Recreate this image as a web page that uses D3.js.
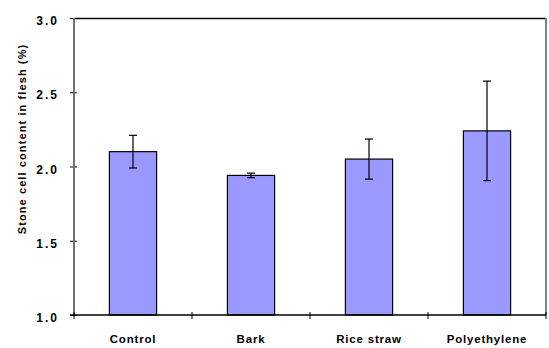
<!DOCTYPE html>
<html>
<head>
<meta charset="utf-8">
<script src="https://cdn.jsdelivr.net/npm/d3@7"></script>
<style>
  body { margin: 0; background: #fff; }
  text { font-family: "Liberation Sans", Arial, sans-serif; font-weight: bold; }
</style>
</head>
<body>
<div id="chart"></div>
<script>
// data
var categories = ["Control", "Bark", "Rice straw", "Polyethylene"];
var means = [2.10, 1.94, 2.05, 2.24];
var errors = [0.11, 0.015, 0.135, 0.335];
var yTicks = [1.0, 1.5, 2.0, 2.5, 3.0];

var W = 549, H = 348;
var margin = { top: 18, right: 3, bottom: 33, left: 74 },
  width = W - margin.left - margin.right,
  height = H - margin.top - margin.bottom;

var svg = d3.select("#chart")
  .append("svg")
  .attr("width", W)
  .attr("height", H)
  .append("g")
  .attr("transform", "translate(" + margin.left + "," + margin.top + ")");

var x = d3.scaleBand()
  .domain(categories)
  .range([0, width])
  .paddingInner(0)
  .paddingOuter(0);

var y = d3.scaleLinear()
  .domain([1.0, 3.0])
  .range([height, 0]);

// plot frame: top black, right gray
svg.append("line")
  .attr("x1", 0).attr("x2", width)
  .attr("y1", 0.5).attr("y2", 0.5)
  .style("stroke", "#000").style("stroke-width", 1.5);
svg.append("line")
  .attr("x1", width).attr("x2", width)
  .attr("y1", 0).attr("y2", height)
  .style("stroke", "#808080").style("stroke-width", 2);

// bars
var barW = x.bandwidth() * 0.4;
svg.selectAll("rect.bar")
  .data(categories)
  .enter()
  .append("rect")
  .attr("class", "bar")
  .attr("x", function (d) { return x(d) + (x.bandwidth() - barW) / 2; })
  .attr("y", function (d, i) { return y(means[i]); })
  .attr("width", barW)
  .attr("height", function (d, i) { return height - y(means[i]); })
  .attr("fill", "#9999ff")
  .attr("stroke", "#000")
  .attr("stroke-width", 1.2);

// error bars
var eb = svg.selectAll("g.err")
  .data(categories)
  .enter()
  .append("g")
  .attr("class", "err")
  .attr("transform", function (d) { return "translate(" + (x(d) + x.bandwidth() / 2) + ",0)"; });

eb.append("line")
  .attr("y1", function (d, i) { return y(means[i] + errors[i]); })
  .attr("y2", function (d, i) { return y(means[i] - errors[i]); })
  .style("stroke", "#000").style("stroke-width", 1.2);
eb.append("line")
  .attr("x1", -4).attr("x2", 4)
  .attr("y1", function (d, i) { return y(means[i] + errors[i]); })
  .attr("y2", function (d, i) { return y(means[i] + errors[i]); })
  .style("stroke", "#000").style("stroke-width", 1.2);
eb.append("line")
  .attr("x1", -4).attr("x2", 4)
  .attr("y1", function (d, i) { return y(means[i] - errors[i]); })
  .attr("y2", function (d, i) { return y(means[i] - errors[i]); })
  .style("stroke", "#000").style("stroke-width", 1.2);

// Y axis
var yAxis = svg.append("g")
  .call(d3.axisLeft(y)
    .tickValues(yTicks)
    .tickSize(0)
    .tickPadding(15)
    .tickFormat(d3.format(".1f")));
yAxis.select(".domain").remove();
yAxis.selectAll(".tick text")
  .attr("dy", "0.55em")
  .style("font-size", "12px")
  .style("letter-spacing", "2px")
  .style("fill", "#000");
yAxis.selectAll(".tick")
  .append("line")
  .attr("x1", -4).attr("x2", 3)
  .style("stroke", "#000");
svg.append("line")
  .attr("x1", 0).attr("x2", 0)
  .attr("y1", 0).attr("y2", height)
  .style("stroke", "#707070").style("stroke-width", 2);

// X axis
var xAxis = svg.append("g")
  .attr("transform", "translate(0," + height + ")")
  .call(d3.axisBottom(x).tickSize(0).tickPadding(20));
xAxis.select(".domain").remove();
xAxis.selectAll(".tick text")
  .style("font-size", "11.5px")
  .style("letter-spacing", "0.8px")
  .style("fill", "#000");
svg.append("line")
  .attr("x1", -4).attr("x2", width)
  .attr("y1", height).attr("y2", height)
  .style("stroke", "#000").style("stroke-width", 1.5);
svg.selectAll("line.xtick")
  .data(d3.range(categories.length + 1))
  .enter()
  .append("line")
  .attr("class", "xtick")
  .attr("x1", function (i) { return i * x.step(); })
  .attr("x2", function (i) { return i * x.step(); })
  .attr("y1", height - 3).attr("y2", height + 4)
  .style("stroke", "#000");

// y label
svg.append("text")
  .attr("transform", "rotate(-90)")
  .attr("x", -(139 - margin.top))
  .attr("y", 22 - margin.left)
  .attr("dy", "0.35em")
  .style("text-anchor", "middle")
  .style("font-size", "11px")
  .style("letter-spacing", "1.1px")
  .text("Stone cell content in flesh (%)");
</script>
</body>
</html>
